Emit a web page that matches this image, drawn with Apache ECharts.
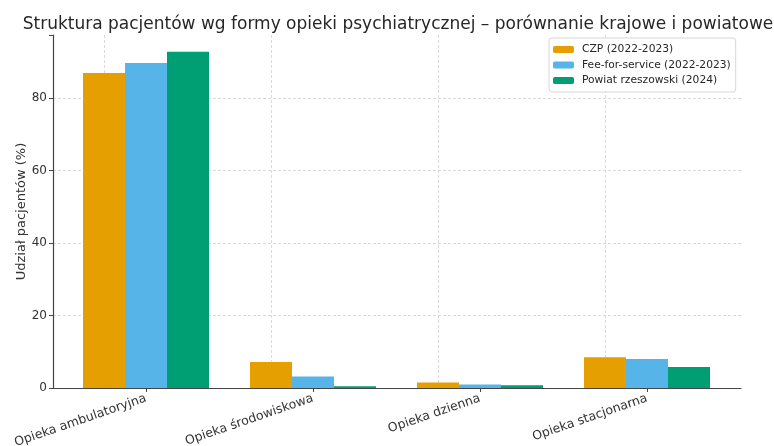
<!DOCTYPE html>
<html>
<head>
<meta charset="utf-8">
<script src="https://cdn.jsdelivr.net/npm/echarts@6/dist/echarts.min.js"></script>
<style>
  html, body { margin: 0; padding: 0; background: #fff; }
  #chart { width: 774px; height: 446px; }
</style>
</head>
<body>
<div id="chart"></div>
<script>
// dane (% pacjentów)
const categories = ['Opieka ambulatoryjna', 'Opieka środowiskowa', 'Opieka dzienna', 'Opieka stacjonarna'];
const czp = [86.9, 7.2, 1.5, 8.5];
const feeForService = [89.7, 3.2, 1.0, 8.0];
const powiat = [92.8, 0.5, 0.75, 5.8];
const seriesNames = ['CZP (2022-2023)', 'Fee-for-service (2022-2023)', 'Powiat rzeszowski (2024)'];
const yTicks = [0, 20, 40, 60, 80];

const FONT = 'DejaVu Sans';
const yMax = 97.4;

const chart = echarts.init(document.getElementById('chart'), null, { renderer: 'canvas' });

const barBase = {
    type: 'bar',
    xAxisIndex: 1,
    yAxisIndex: 1,
    barWidth: 42,
    barGap: '0%',
    z: 3
};

chart.setOption({
    animation: false,
    backgroundColor: '#fff',
    textStyle: { fontFamily: FONT },
    title: {
        text: 'Struktura pacjentów wg formy opieki psychiatrycznej – porównanie krajowe i powiatowe',
        left: 393,
        top: 11,
        textAlign: 'center',
        textStyle: { fontFamily: FONT, fontSize: 17, fontWeight: 'normal', color: '#262626' }
    },
    legend: {
        orient: 'vertical',
        left: 549,
        top: 38,
        padding: [5, 5, 5, 4],
        itemWidth: 21,
        itemHeight: 7,
        itemGap: 2.5,
        itemStyle: { borderWidth: 0 },
        borderColor: '#d6d6d6',
        borderWidth: 1,
        borderRadius: 3,
        backgroundColor: 'rgba(255,255,255,0.85)',
        textStyle: { fontFamily: FONT, fontSize: 10.7, color: '#262626', lineHeight: 13, padding: [0, 0, 0, 3] },
        data: seriesNames
    },
    grid: [
        // ramka osi (pełna szerokość)
        { left: 53, right: 33, top: 35, bottom: 58, outerBoundsMode: 'none' },
        // słupki (szerokość kategorii jak w oryginale)
        { left: 62.5, right: 43.5, top: 35, bottom: 58, outerBoundsMode: 'none' }
    ],
    xAxis: [
        {
            type: 'value', gridIndex: 0, min: 0, max: 1,
            axisLine: { show: true, lineStyle: { color: '#444', width: 1.2 } },
            axisTick: { show: false }, axisLabel: { show: false }, splitLine: { show: false }
        },
        {
            type: 'category', gridIndex: 1, data: categories,
            axisLine: { show: false },
            axisTick: { show: true, alignWithLabel: true, length: 4, lineStyle: { color: '#444' } },
            axisLabel: {
                rotate: 19, margin: 10, interval: 0,
                fontFamily: FONT, fontSize: 12.5, color: '#333'
            },
            splitLine: { show: false }
        }
    ],
    yAxis: [
        {
            type: 'value', gridIndex: 0, min: 0, max: yMax, interval: 20,
            name: 'Udział pacjentów (%)', nameLocation: 'middle', nameGap: 25,
            nameMoveOverlap: false,
            nameTextStyle: { fontFamily: FONT, fontSize: 13, color: '#333' },
            axisLine: { show: true, lineStyle: { color: '#444', width: 1.2 } },
            axisTick: { show: true, length: 4, lineStyle: { color: '#444' } },
            axisLabel: {
                fontFamily: FONT, fontSize: 12, color: '#333', margin: 6,
                formatter: v => (yTicks.indexOf(v) >= 0 ? String(v) : '')
            },
            splitLine: { show: true, showMaxLine: false, lineStyle: { color: '#d0d0d0', type: [3, 2], width: 0.8 } }
        },
        {
            type: 'value', gridIndex: 1, min: 0, max: yMax, show: false,
            splitLine: { show: false }
        }
    ],
    series: [
        Object.assign({}, barBase, {
            name: seriesNames[0], data: czp, itemStyle: { color: '#E69F00' },
            markLine: {
                silent: true, symbol: 'none', label: { show: false }, z: 1,
                lineStyle: { color: '#d0d0d0', type: [3, 2], width: 0.8 },
                data: categories.map(c => ({ xAxis: c }))
            }
        }),
        Object.assign({}, barBase, { name: seriesNames[1], data: feeForService, itemStyle: { color: '#56B4E9' } }),
        Object.assign({}, barBase, { name: seriesNames[2], data: powiat, itemStyle: { color: '#009E73' } })
    ]
});
</script>
</body>
</html>
